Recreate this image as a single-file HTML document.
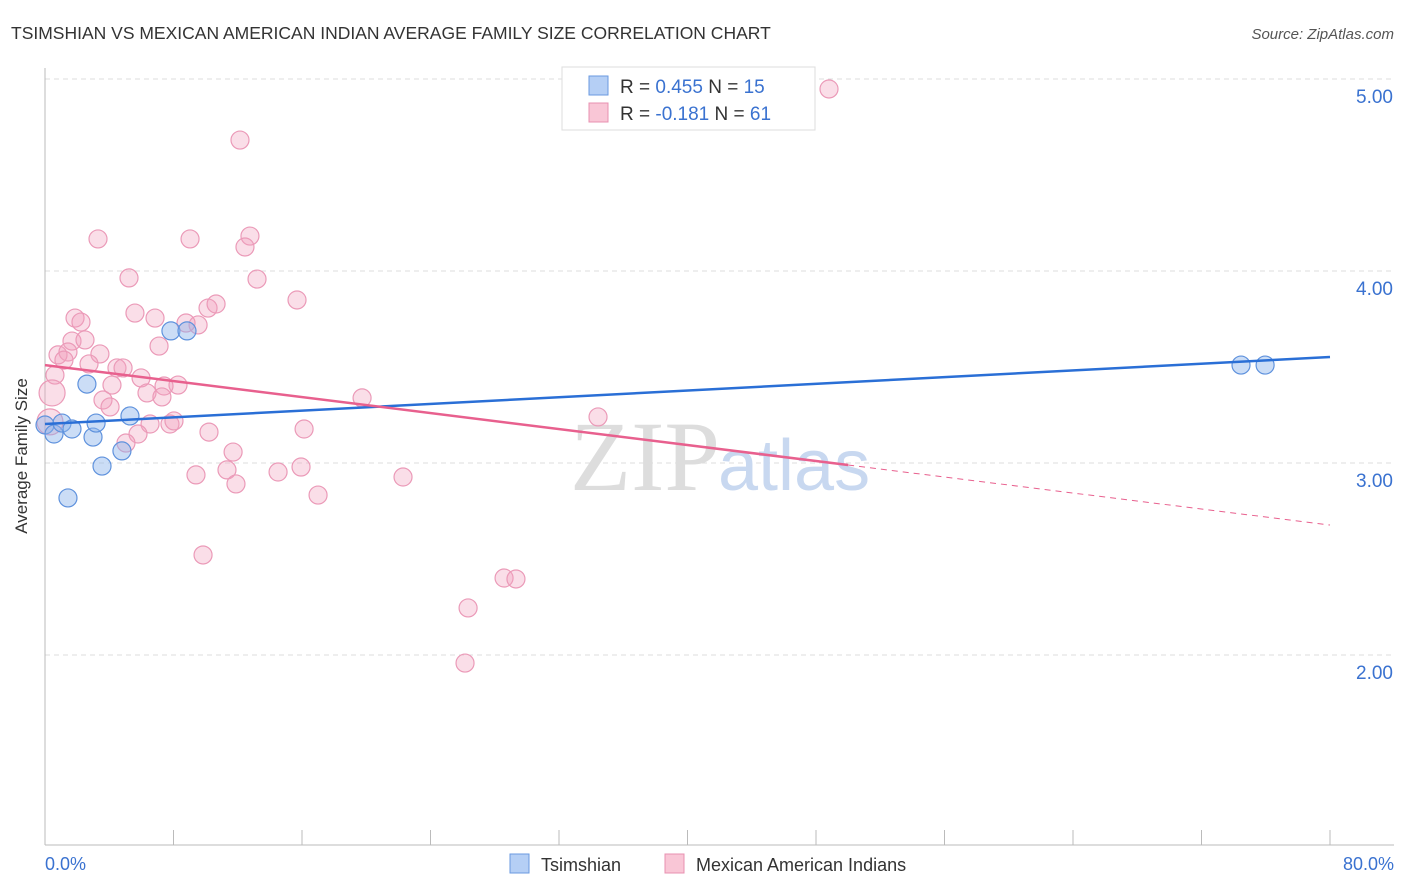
<!DOCTYPE html>
<html><head><meta charset="utf-8"><style>
body{margin:0;background:#fff;font-family:"Liberation Sans",sans-serif;}
svg{display:block}
</style></head><body>
<svg width="1406" height="892" viewBox="0 0 1406 892">
<text x="11" y="39" font-size="17.5" fill="#333">TSIMSHIAN VS MEXICAN AMERICAN INDIAN AVERAGE FAMILY SIZE CORRELATION CHART</text>
<text x="1394" y="39" font-size="15" fill="#555" text-anchor="end" font-style="italic">Source: ZipAtlas.com</text>
<g id="grid"></g>
<text x="720" y="490" font-size="100" fill="#ddd" text-anchor="end" font-family="Liberation Serif">ZIP</text>
<text x="718" y="490" font-size="72" fill="#c8d8f0">atlas</text>
<line x1="45" y1="68" x2="45" y2="845" stroke="#bbb"/>
<line x1="45" y1="845" x2="1394" y2="845" stroke="#bbb"/>
<g id="ticks"></g>
<g id="pts"></g>
<g id="lines"></g>
<text x="27" y="456" font-size="17" fill="#333" text-anchor="middle" transform="rotate(-90 27 456)">Average Family Size</text>
<text x="45" y="870" font-size="18" fill="#3a72d0">0.0%</text>
<text x="1394" y="870" font-size="18" fill="#3a72d0" text-anchor="end">80.0%</text>
<g>
<rect x="562" y="67" width="253" height="63" fill="#fff" stroke="#ddd"/>
<rect x="589" y="76" width="19" height="19" fill="#b5cff5" stroke="#6a9ae0"/>
<rect x="589" y="103" width="19" height="19" fill="#f9c6d6" stroke="#e890b0"/>
<text x="620" y="93" font-size="19" fill="#333">R = <tspan fill="#3a72d0">0.455</tspan>   N = <tspan fill="#3a72d0">15</tspan></text>
<text x="620" y="120" font-size="19" fill="#333">R = <tspan fill="#3a72d0">-0.181</tspan>   N = <tspan fill="#3a72d0">61</tspan></text>
</g>
<g><rect x="510" y="854" width="19" height="19" fill="#b5cff5" stroke="#6a9ae0"/><text x="541" y="871" font-size="18" fill="#333">Tsimshian</text></g>
<g><rect x="665" y="854" width="19" height="19" fill="#f9c6d6" stroke="#e890b0"/><text x="696" y="871" font-size="18" fill="#333">Mexican American Indians</text></g>
</svg>
<script>
const yTicks=[2,3,4,5];
const yTickLabels=["2.00","3.00","4.00","5.00"];
const xTicks=[0,8,16,24,32,40,48,56,64,72,80];
const blueX=[0,0.56,1.06,1.68,1.43,2.61,2.99,3.18,3.55,4.79,5.29,7.84,8.84,74.46,75.96];
const blueY=[3.198,3.151,3.208,3.177,2.818,3.411,3.135,3.208,2.984,3.063,3.245,3.688,3.688,3.51,3.51];
const pinkX=[48.81,12.14,3.3,9.03,12.76,12.45,5.23,13.2,15.69,1.87,2.24,5.6,6.85,10.15,10.65,9.53,8.78,1.68,2.49,7.1,0.81,1.43,3.42,1.18,2.74,4.48,4.86,0.62,5.98,4.17,8.28,7.41,6.35,7.28,3.61,4.05,19.74,34.43,6.54,7.78,8.03,5.79,5.04,10.21,16.13,11.71,0.31,11.33,9.4,14.51,15.94,11.89,17.0,22.29,9.84,28.58,29.32,26.34,26.15,0.44];
const pinkY=[4.948,4.682,4.167,4.167,4.182,4.125,3.964,3.958,3.849,3.755,3.734,3.781,3.755,3.807,3.828,3.719,3.729,3.635,3.641,3.609,3.563,3.578,3.568,3.536,3.516,3.495,3.495,3.458,3.443,3.406,3.406,3.401,3.365,3.344,3.328,3.292,3.339,3.24,3.203,3.203,3.219,3.151,3.104,3.161,3.177,3.057,3.214,2.964,2.938,2.953,2.979,2.891,2.833,2.927,2.521,2.401,2.396,2.245,1.958,3.365];
const blueFit=[3.203,3.552];
const pinkFit=[3.51,2.677];
const pinkSolidEnd=50;
const NS="http://www.w3.org/2000/svg";
const sx=v=>45+v/80*1285;
const sy=v=>79+(5-v)*192;
function mk(t,a,p){const e=document.createElementNS(NS,t);for(const k in a)e.setAttribute(k,a[k]);p.appendChild(e);return e;}
const grid=document.getElementById('grid');
yTicks.forEach((v,i)=>{
 const l=mk('line',{x1:45,x2:1394,y1:sy(v),y2:sy(v),stroke:'#ddd','stroke-dasharray':'5,4'},grid);
 
 
 const t=mk('text',{x:1393,y:sy(v)+24,'font-size':19,fill:'#3a72d0','text-anchor':'end'},grid);
 t.textContent=yTickLabels[i];
 
 
});
const tk=document.getElementById('ticks');
xTicks.forEach(v=>{
 const l=mk('line',{x1:sx(v),x2:sx(v),y1:830,y2:845,stroke:'#bbb'},tk);
 
 
});
const pts=document.getElementById('pts');
pinkX.forEach((x,i)=>{
 const big=(i>=46&&x<0.5);
 const c=mk('circle',{cx:sx(x),cy:sy(pinkY[i]),r:big?13:9,fill:'rgba(242,160,188,0.35)',stroke:'#eb9ab8','stroke-width':1.2},pts);
 
 
});
blueX.forEach((x,i)=>{
 const c=mk('circle',{cx:sx(x),cy:sy(blueY[i]),r:9,fill:'rgba(140,180,235,0.45)',stroke:'#5f92dd','stroke-width':1.2},pts);
 
 
});
const ln=document.getElementById('lines');
const pAt=x=>pinkFit[0]+(pinkFit[1]-pinkFit[0])*x/80;
let b=mk('line',{x1:sx(0),y1:sy(blueFit[0]),x2:sx(80),y2:sy(blueFit[1]),stroke:'#2a6fd6','stroke-width':2.5},ln);


let p=mk('line',{x1:sx(0),y1:sy(pinkFit[0]),x2:sx(pinkSolidEnd),y2:sy(pAt(pinkSolidEnd)),stroke:'#e8608e','stroke-width':2.5},ln);


let pd=mk('line',{x1:sx(pinkSolidEnd),y1:sy(pAt(pinkSolidEnd)),x2:sx(80),y2:sy(pinkFit[1]),stroke:'#e8608e','stroke-width':1,'stroke-dasharray':'6,5'},ln);


</script>
</body></html>
